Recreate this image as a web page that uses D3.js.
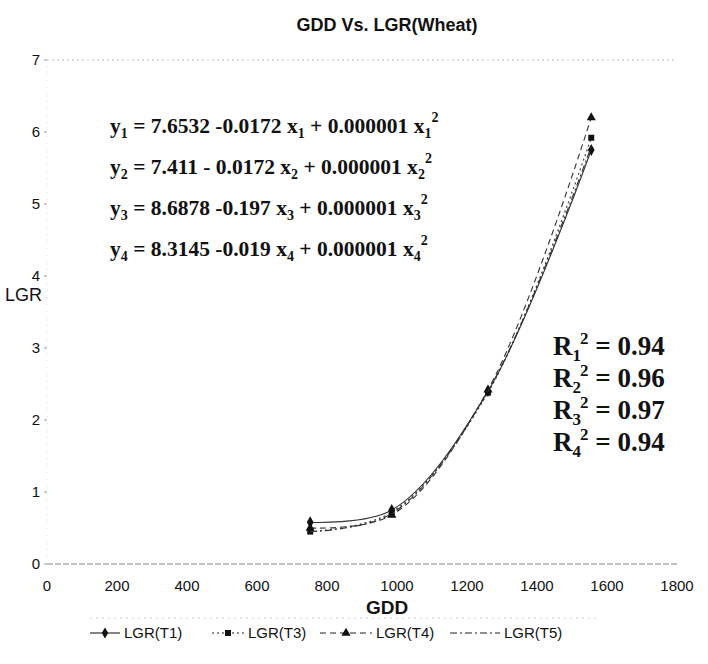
<!DOCTYPE html>
<html>
<head>
<meta charset="utf-8" />
<style>
body { margin:0; background:#fff; }
text { font-family: Arial, "Liberation Sans", sans-serif; fill:#111; }
.eq { font-family: "Times New Roman", "Liberation Serif", serif; font-weight:bold; }
</style>
</head>
<body>
<svg id="chart" width="708" height="664"></svg>
<script src="https://cdn.jsdelivr.net/npm/d3@7"></script>
<script>
var gdd = [752, 985, 1260, 1555];
var lgrT1 = [0.58, 0.75, 2.40, 5.75];
var lgrT3 = [0.45, 0.72, 2.38, 5.92];
var lgrT4 = [0.50, 0.68, 2.42, 6.20];
var lgrT5 = [0.45, 0.70, 2.40, 5.80];
var seriesNames = ["LGR(T1)", "LGR(T3)", "LGR(T4)", "LGR(T5)"];
var xTicks = [0, 200, 400, 600, 800, 1000, 1200, 1400, 1600, 1800];
var yTicks = [0, 1, 2, 3, 4, 5, 6, 7];
var equations = [
	["7.6532 -0.0172 x", " + 0.000001 x"],
	["7.411 - 0.0172 x", " + 0.000001 x"],
	["8.6878 -0.197 x", " + 0.000001 x"],
	["8.3145 -0.019 x", " + 0.000001 x"]
];
var rsq = ["0.94", "0.96", "0.97", "0.94"];

var svg = d3.select("#chart");
var x = d3.scaleLinear().domain([0, 1800]).range([47, 677]);
var y = d3.scaleLinear().domain([0, 7]).range([564, 60]);

// title
svg.append("text").attr("x", 387).attr("y", 31).attr("text-anchor", "middle")
	.style("font-size", "18px").style("font-weight", "bold").text("GDD Vs. LGR(Wheat)");

// faint frame lines at 0 and 7, left axis
svg.append("line").attr("x1", x(0)).attr("x2", x(1800)).attr("y1", y(7)).attr("y2", y(7))
	.attr("stroke", "#bbb").attr("stroke-dasharray", "2,3");
svg.append("line").attr("x1", x(0)).attr("x2", x(1800)).attr("y1", y(0)).attr("y2", y(0))
	.attr("stroke", "#888").attr("stroke-dasharray", "6,2");
svg.append("line").attr("x1", x(0)).attr("x2", x(0)).attr("y1", y(0)).attr("y2", y(7))
	.attr("stroke", "#ddd").attr("stroke-dasharray", "1,6");

// y ticks
var yg = svg.append("g");
yg.selectAll("line").data(yTicks).enter().append("line")
	.attr("x1", x(0) - 3).attr("x2", x(0)).attr("y1", d => y(d)).attr("y2", d => y(d))
	.attr("stroke", "#999");
yg.selectAll("text").data(yTicks).enter().append("text")
	.attr("x", 40).attr("y", d => y(d) + 5).attr("text-anchor", "end")
	.style("font-size", "15px").text(d => d);

// x ticks
svg.append("g").selectAll("text").data(xTicks).enter().append("text")
	.attr("x", d => x(d)).attr("y", 591).attr("text-anchor", "middle")
	.style("font-size", "15px").text(d => d);

// axis titles
svg.append("text").attr("x", 387).attr("y", 614).attr("text-anchor", "middle")
	.style("font-size", "19px").style("font-weight", "bold").text("GDD");
svg.append("text").attr("x", 5).attr("y", 301)
	.style("font-size", "18px").text("LGR");

// series
var series = [
	{ vals: lgrT1, dash: null, marker: "diamond" },
	{ vals: lgrT3, dash: "2,3", marker: "square" },
	{ vals: lgrT4, dash: "6,4", marker: "triangle" },
	{ vals: lgrT5, dash: "7,3,2,3", marker: null }
];
var line = d3.line().x(d => x(d[0])).y(d => y(d[1])).curve(d3.curveCatmullRom.alpha(0.5));
var symbols = { diamond: d3.symbolDiamond, square: d3.symbolSquare, triangle: d3.symbolTriangle };

series.forEach(function(s) {
	var pts = gdd.map((g, i) => [g, s.vals[i]]);
	svg.append("path").attr("d", line(pts)).attr("fill", "none")
		.attr("stroke", "#333").attr("stroke-width", 1.1)
		.attr("stroke-dasharray", s.dash);
	if (s.marker) {
		svg.append("g").selectAll("path").data(pts).enter().append("path")
			.attr("transform", d => "translate(" + x(d[0]) + "," + y(d[1]) + ")")
			.attr("d", d3.symbol().type(symbols[s.marker]).size(s.marker == "diamond" ? 40 : 36))
			.attr("fill", "#111");
	}
});

// equations
equations.forEach(function(e, i) {
	var t = svg.append("text").attr("class", "eq").attr("x", 110).attr("y", 133 + i * 41)
		.style("font-size", "21.5px");
	t.append("tspan").text("y");
	t.append("tspan").attr("dy", 5).style("font-size", "14px").text(i + 1);
	t.append("tspan").attr("dy", -5).text(" = " + e[0]);
	t.append("tspan").attr("dy", 5).style("font-size", "14px").text(i + 1);
	t.append("tspan").attr("dy", -5).text(e[1]);
	t.append("tspan").attr("dy", 5).style("font-size", "14px").text(i + 1);
	t.append("tspan").attr("dy", -16).style("font-size", "14px").text("2");
});

// R squared
rsq.forEach(function(r, i) {
	var t = svg.append("text").attr("class", "eq").attr("x", 553).attr("y", 355 + i * 32)
		.style("font-size", "27px");
	t.append("tspan").text("R");
	t.append("tspan").attr("dy", 6).style("font-size", "17px").text(i + 1);
	t.append("tspan").attr("dy", -17).attr("dx", -1).style("font-size", "17px").text("2");
	t.append("tspan").attr("dy", 11).text(" = " + r);
});

// legend
svg.append("line").attr("x1", 90).attr("x2", 600).attr("y1", 618).attr("y2", 618)
	.attr("stroke", "#ccc").attr("stroke-dasharray", "2,4");
var legX = [90, 212, 320, 450];
var legLen = [30, 32, 52, 50];
series.forEach(function(s, i) {
	var g = svg.append("g").attr("transform", "translate(" + legX[i] + ",633)");
	g.append("line").attr("x1", 0).attr("x2", legLen[i]).attr("y1", 0).attr("y2", 0)
		.attr("stroke", "#222").attr("stroke-width", 1.1).attr("stroke-dasharray", s.dash);
	if (s.marker) {
		g.append("path").attr("transform", "translate(" + (legLen[i] / 2) + ",0)")
			.attr("d", d3.symbol().type(symbols[s.marker]).size(36)).attr("fill", "#111");
	}
	g.append("text").attr("x", legLen[i] + 4).attr("y", 5).style("font-size", "15px").text(seriesNames[i]);
});
</script>
</body>
</html>
